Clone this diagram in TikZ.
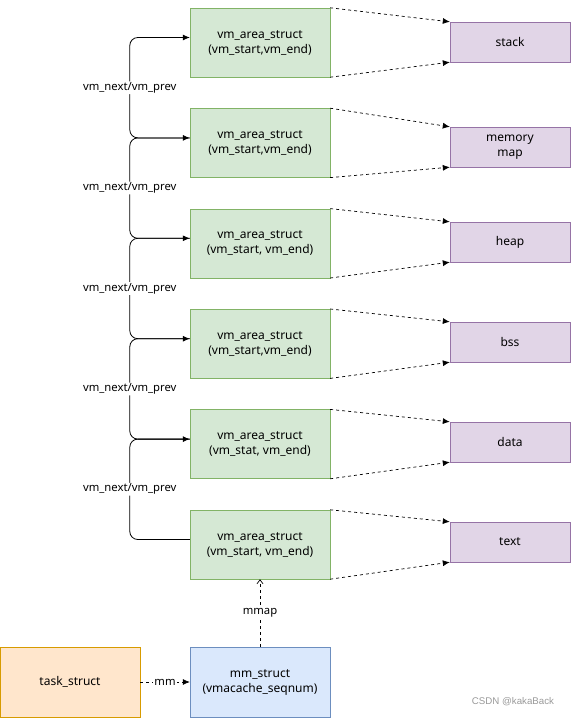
\documentclass[tikz,border=0pt]{standalone}
\usepackage{fontspec}
\setmainfont{Noto Sans}
\newfontfamily\markfont{Liberation Sans}
\usetikzlibrary{arrows.meta,positioning}

\definecolor{vmafill}{HTML}{D5E8D4}
\definecolor{vmaline}{HTML}{82B366}
\definecolor{segfill}{HTML}{E1D5E7}
\definecolor{segline}{HTML}{9673A6}
\definecolor{taskfill}{HTML}{FFE6CC}
\definecolor{taskline}{HTML}{D79B00}
\definecolor{mmfill}{HTML}{DAE8FC}
\definecolor{mmline}{HTML}{6C8EBF}

\begin{document}
\begin{tikzpicture}[
  x=1pt, y=-1pt,
  node distance=31pt and 50pt,
  font=\fontsize{12}{15}\selectfont,
  vma/.style={draw=vmaline, fill=vmafill, align=center, minimum width=140pt, minimum height=69pt, inner sep=0pt},
  seg/.style={draw=segline, fill=segfill, align=center, minimum width=120pt, minimum height=40pt, inner sep=0pt},
  chain/.style={-{Latex[length=7pt, width=6pt]}, line width=0.8pt, rounded corners=8pt},
  mapto/.style={-{Latex[length=7pt, width=6pt]}, dashed, line width=0.7pt},
  lbl/.style={fill=white, inner sep=1pt, font=\fontsize{11.3}{13}\selectfont}
]
\useasboundingbox (0,0) rectangle (571,718);

% vm_area_struct list
\node[vma] (v1) at (260,42.5) {vm\_area\_struct\\(vm\_start,vm\_end)};
\node[vma, below=of v1] (v2) {vm\_area\_struct\\(vm\_start,vm\_end)};
\node[vma, below=of v2] (v3) {vm\_area\_struct\\(vm\_start, vm\_end)};
\node[vma, below=of v3] (v4) {vm\_area\_struct\\(vm\_start,vm\_end)};
\node[vma, below=of v4] (v5) {vm\_area\_struct\\(vm\_stat, vm\_end)};
\node[vma, below=of v5] (v6) {vm\_area\_struct\\(vm\_start, vm\_end)};

% segments
\node[seg] (stack) at (510,42) {stack};
\node[seg] (mapseg) at (510,147) {memory\\map};
\node[seg] (heap) at (510,242) {heap};
\node[seg] (bss) at (510,342) {bss};
\node[seg] (data) at (510,442) {data};
\node[seg] (text) at (510,542) {text};

\draw[mapto] (v1.north east) -- (stack.north west);
\draw[mapto] (v1.south east) -- (stack.south west);
\draw[mapto] (v2.north east) -- (mapseg.north west);
\draw[mapto] (v2.south east) -- (mapseg.south west);
\draw[mapto] (v3.north east) -- (heap.north west);
\draw[mapto] (v3.south east) -- (heap.south west);
\draw[mapto] (v4.north east) -- (bss.north west);
\draw[mapto] (v4.south east) -- (bss.south west);
\draw[mapto] (v5.north east) -- (data.north west);
\draw[mapto] (v5.south east) -- (data.south west);
\draw[mapto] (v6.north east) -- (text.north west);
\draw[mapto] (v6.south east) -- (text.south west);

% vm_next/vm_prev links
\draw[chain] ([yshift=5pt]v2.west) -- ++(-60,0) |- node[pos=0.25, lbl] {vm\_next/vm\_prev} ([yshift=5pt]v1.west);
\draw[chain] ([yshift=5pt]v3.west) -- ++(-60,0) |- node[pos=0.25, lbl] {vm\_next/vm\_prev} ([yshift=5pt]v2.west);
\draw[chain] ([yshift=5pt]v4.west) -- ++(-60,0) |- node[pos=0.25, lbl] {vm\_next/vm\_prev} ([yshift=5pt]v3.west);
\draw[chain] ([yshift=5pt]v5.west) -- ++(-60,0) |- node[pos=0.25, lbl] {vm\_next/vm\_prev} ([yshift=5pt]v4.west);
\draw[chain] ([yshift=5pt]v6.west) -- ++(-60,0) |- node[pos=0.25, lbl] {vm\_next/vm\_prev} ([yshift=5pt]v5.west);

% task and mm
\node[draw=taskline, fill=taskfill, minimum width=140pt, minimum height=70pt] (task) at (70,682) {task\_struct};
\node[draw=mmline, fill=mmfill, align=center, minimum width=140pt, minimum height=70pt] (mm) at (260,682) {mm\_struct\\(vmacache\_seqnum)};

\draw[mapto] (task) -- node[lbl] {mm} (mm);
\draw[-{Straight Barb[length=4pt, width=6pt]}, dashed, line width=0.7pt] (mm) -- node[lbl] {mmap} (v6);

\node[text=black!40, font=\markfont\fontsize{9.7}{12}\selectfont] (mark) at (513,702) {CSDN @kakaBack};
\end{tikzpicture}
\end{document}
